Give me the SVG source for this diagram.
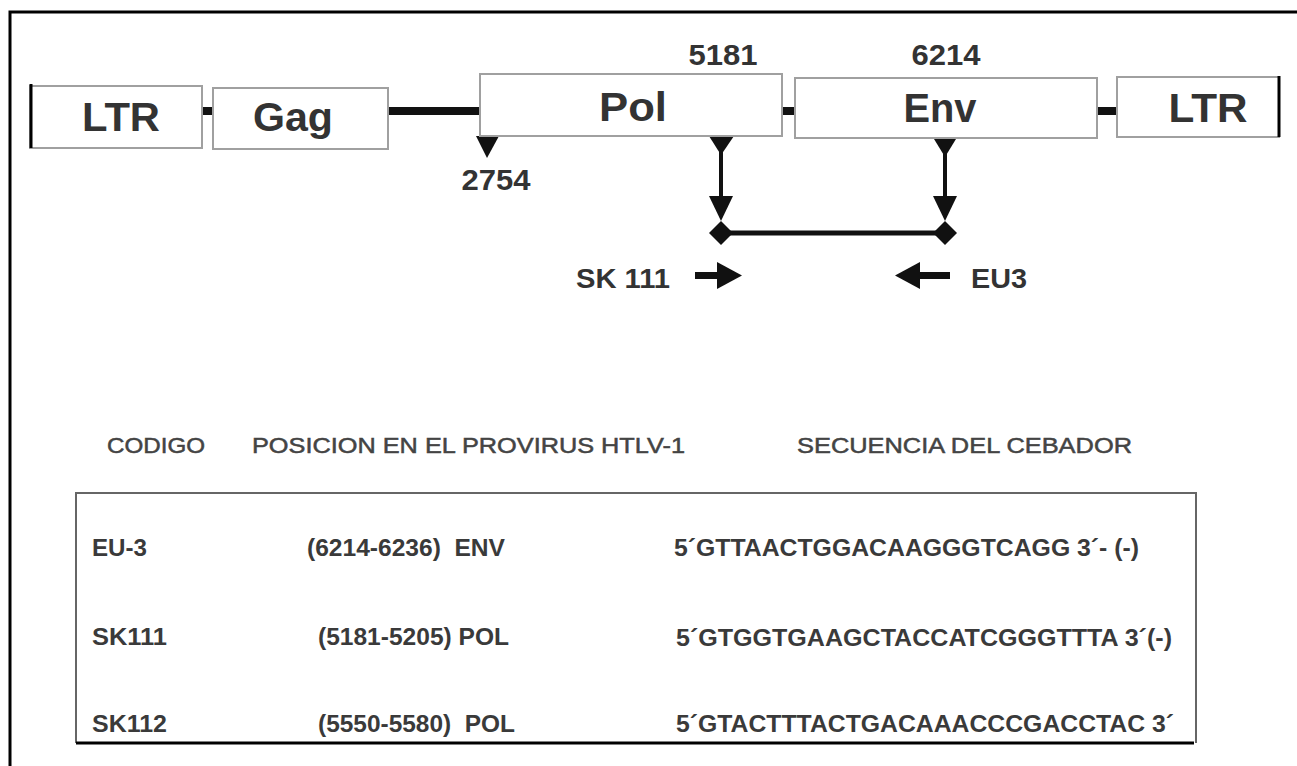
<svg xmlns="http://www.w3.org/2000/svg" width="1297" height="766" viewBox="0 0 1297 766">
<style>
.box{fill:#fff;stroke:#a0a0a0;stroke-width:2}
.edge{stroke:#000;stroke-width:3}
.lbl{font-family:"Liberation Sans",Arial,sans-serif;font-weight:bold;font-size:41px;fill:#333;text-anchor:middle}
.num{font-family:"Liberation Sans",Arial,sans-serif;font-weight:bold;font-size:29px;fill:#333;text-anchor:middle}
.prm{font-family:"Liberation Sans",Arial,sans-serif;font-weight:bold;font-size:28px;fill:#333}
.hdr{font-family:"Liberation Sans",Arial,sans-serif;font-size:22px;fill:#444;stroke:#444;stroke-width:0.5}
.row{font-family:"Liberation Sans",Arial,sans-serif;font-weight:bold;font-size:23px;fill:#3a3a3a}
.blk{fill:#111;stroke:none}
.ln{stroke:#111;fill:none}
</style>
<rect width="1297" height="766" fill="#fff"/>
<!-- outer frame -->
<path d="M10,766 V12 H1297" fill="none" stroke="#000" stroke-width="3"/>

<g id="connectors">
  <rect class="blk" x="202" y="107" width="11" height="8"/>
  <rect class="blk" x="388" y="107" width="92" height="8"/>
  <rect class="blk" x="782" y="107" width="13" height="8"/>
  <rect class="blk" x="1097" y="107" width="20" height="8"/>
  <polygon class="blk" points="476,136 499,136 487,158"/>
  <polygon class="blk" points="709,136 734,136 721,155"/>
  <line class="ln" x1="721" y1="150" x2="721" y2="205" stroke-width="4"/>
  <polygon class="blk" points="709,196 733,196 721,221"/>
  <polygon class="blk" points="934,139 956,139 945,157"/>
  <line class="ln" x1="945" y1="150" x2="945" y2="205" stroke-width="4"/>
  <polygon class="blk" points="933,196 957,196 945,221"/>
  <line class="ln" x1="721" y1="233" x2="945" y2="233" stroke-width="5"/>
  <polygon class="blk" points="721,221 733,233 721,245 709,233"/>
  <polygon class="blk" points="945,221 957,233 945,245 933,233"/>
  <rect class="blk" x="695" y="272" width="25" height="7"/>
  <polygon class="blk" points="717,262 742,275.5 717,289"/>
  <rect class="blk" x="917" y="272" width="33" height="7"/>
  <polygon class="blk" points="920,262 895,275.5 920,289"/>
</g>

<g id="ltr-left">
  <rect class="box" x="30" y="86" width="172" height="62"/>
  <line class="edge" x1="31" y1="84" x2="31" y2="148"/>
  <text class="lbl" x="121" y="131" textLength="78" lengthAdjust="spacingAndGlyphs">LTR</text>
</g>
<g id="gag">
  <rect class="box" x="213" y="88" width="175" height="61"/>
  <text class="lbl" x="293" y="131" textLength="80" lengthAdjust="spacingAndGlyphs">Gag</text>
</g>
<g id="pol">
  <rect class="box" x="480" y="74" width="302" height="62"/>
  <text class="lbl" x="633" y="121" textLength="68" lengthAdjust="spacingAndGlyphs">Pol</text>
</g>
<g id="env">
  <rect class="box" x="795" y="78" width="302" height="60"/>
  <text class="lbl" x="940" y="122" textLength="73" lengthAdjust="spacingAndGlyphs">Env</text>
</g>
<g id="ltr-right">
  <rect class="box" x="1117" y="77" width="162" height="60"/>
  <line class="edge" x1="1279" y1="76" x2="1279" y2="137"/>
  <text class="lbl" x="1208" y="122" textLength="79" lengthAdjust="spacingAndGlyphs">LTR</text>
</g>

<g id="positions">
  <text class="num" x="723" y="65" textLength="69" lengthAdjust="spacingAndGlyphs">5181</text>
  <text class="num" x="946" y="65" textLength="69" lengthAdjust="spacingAndGlyphs">6214</text>
  <text class="num" x="496" y="190" textLength="69" lengthAdjust="spacingAndGlyphs">2754</text>
</g>

<g id="primers">
  <text class="prm" x="576" y="288" textLength="94" lengthAdjust="spacingAndGlyphs">SK 111</text>
  <text class="prm" x="971" y="288" textLength="56" lengthAdjust="spacingAndGlyphs">EU3</text>
</g>

<g id="table-header">
  <text class="hdr" x="107" y="453" textLength="98" lengthAdjust="spacingAndGlyphs">CODIGO</text>
  <text class="hdr" x="252" y="453" textLength="433" lengthAdjust="spacingAndGlyphs">POSICION EN EL PROVIRUS HTLV-1</text>
  <text class="hdr" x="797" y="453" textLength="335" lengthAdjust="spacingAndGlyphs">SECUENCIA DEL CEBADOR</text>
</g>

<g id="table">
  <path d="M76,743 V493 H1196 V743" fill="none" stroke="#666" stroke-width="2"/>
  <line x1="76" y1="743" x2="1194" y2="743" stroke="#000" stroke-width="3"/>
  <text class="row" x="92" y="556" textLength="55" lengthAdjust="spacingAndGlyphs">EU-3</text>
  <text class="row" x="307" y="556" textLength="198" lengthAdjust="spacingAndGlyphs">(6214-6236)&#160; ENV</text>
  <text class="row" x="674" y="556" textLength="465" lengthAdjust="spacingAndGlyphs">5´GTTAACTGGACAAGGGTCAGG 3´- (-)</text>
  <text class="row" x="92" y="645" textLength="75" lengthAdjust="spacingAndGlyphs">SK111</text>
  <text class="row" x="318" y="645" textLength="191" lengthAdjust="spacingAndGlyphs">(5181-5205) POL</text>
  <text class="row" x="676" y="646" textLength="496" lengthAdjust="spacingAndGlyphs">5´GTGGTGAAGCTACCATCGGGTTTA 3´(-)</text>
  <text class="row" x="92" y="732" textLength="75" lengthAdjust="spacingAndGlyphs">SK112</text>
  <text class="row" x="318" y="732" textLength="197" lengthAdjust="spacingAndGlyphs">(5550-5580)&#160; POL</text>
  <text class="row" x="676" y="732" textLength="498" lengthAdjust="spacingAndGlyphs">5´GTACTTTACTGACAAACCCGACCTAC 3´</text>
</g>
</svg>
